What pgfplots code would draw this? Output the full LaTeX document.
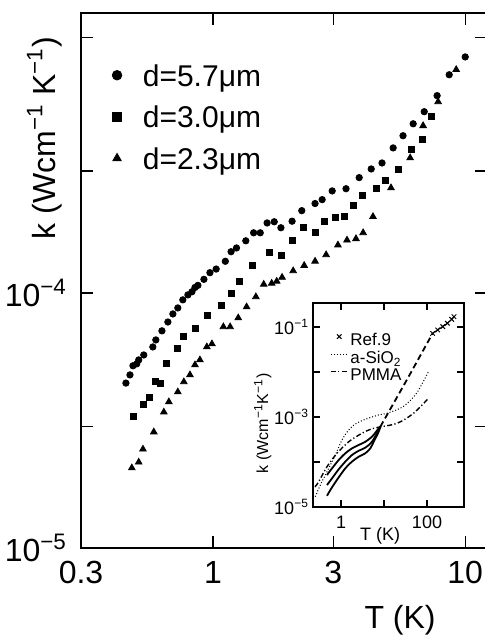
\documentclass[border=0pt]{standalone}
\usepackage{fontspec}
\setmainfont{Liberation Sans}
\usepackage{pgfplots}
\pgfplotsset{compat=1.18}
\newcommand{\tp}[1]{10\textsuperscript{−#1}}

\begin{document}
\begin{tikzpicture}
\useasboundingbox (0,0) rectangle (242pt,319pt);
% main panel
\begin{axis}[
  at={(40.5pt,45pt)}, anchor=south west,
  scale only axis, width=203pt, height=267.5pt,
  xmode=log, ymode=log,
  xmin=0.3, xmax=12.2, ymin=1e-5, ymax=1.25e-3,
  xtick={0.3,1,3,10}, xticklabels={0.3,1,3,10},
  ytick={1e-5,3e-5,1e-4,3e-4,1e-3},
  yticklabels={\tp{5},,\tp{4},,},
  xminorticks=false, yminorticks=false,
  major tick length=6pt,
  tick style={black, line width=0.7pt},
  axis line style={line width=1pt},
  tick label style={font=\fontsize{16}{16}\selectfont},
  xticklabel shift=3pt, yticklabel shift=3.5pt,
  xlabel={T (K)},
  ylabel={k (Wcm\textsuperscript{−1} K\textsuperscript{−1})},
  every axis x label/.style={at={(axis description cs:0.786,-0.1495)}, anchor=base,
    font=\fontsize{16}{16}\selectfont},
  every axis y label/.style={at={(axis description cs:-0.064,0.766)}, rotate=90, anchor=base,
    font=\fontsize{16}{16}\selectfont},
  legend style={at={(axis description cs:0.076,0.905)}, anchor=north west,
    draw=none, fill=none, inner sep=0pt, font=\fontsize{15}{15}\selectfont,
    row sep=6.75pt, column sep=10.5pt,
    nodes={inner sep=0pt, text height=11pt, text depth=3pt}},
  legend cell align=left,
  legend image code/.code={\draw[#1, mark size=2.4pt] plot coordinates {(0pt,1.5pt)};},
]
\addplot[only marks, mark=*, mark size=1.6pt] coordinates {
(0.452,4.43e-5) (0.469,4.77e-5) (0.482,5.18e-5) (0.499,5.27e-5) (0.508,5.46e-5)
(0.532,5.71e-5) (0.578,6.14e-5) (0.594,6.54e-5) (0.628,7.10e-5) (0.663,7.69e-5)
(0.694,8.27e-5) (0.726,8.73e-5) (0.760,9.39e-5) (0.796,9.82e-5) (0.826,1.01e-4)
(0.849,1.05e-4) (0.872,1.07e-4) (0.921,1.13e-4) (0.973,1.20e-4) (1.03,1.24e-4)
(1.12,1.33e-4) (1.18,1.45e-4) (1.24,1.50e-4) (1.35,1.60e-4) (1.45,1.72e-4)
(1.54,1.72e-4) (1.64,1.88e-4) (1.75,1.90e-4) (1.86,1.80e-4) (2.06,1.91e-4)
(2.25,2.10e-4) (2.54,2.24e-4) (2.71,2.32e-4) (2.97,2.51e-4) (3.37,2.56e-4)
(3.80,2.83e-4) (4.24,3.06e-4) (4.68,3.23e-4) (5.18,3.70e-4) (5.67,4.13e-4)
(6.22,4.60e-4) (6.88,5.13e-4) (7.74,5.93e-4) (8.64,7.16e-4) (10.0,8.41e-4)
};
\addlegendentry{d=5.7μm}
\addplot[only marks, mark=square*, mark size=1.5pt] coordinates {
(0.486,3.27e-5) (0.528,3.64e-5) (0.562,3.88e-5) (0.594,4.48e-5) (0.622,4.40e-5)
(0.657,5.31e-5) (0.726,6.08e-5) (0.767,6.77e-5) (0.849,7.29e-5) (0.955,8.13e-5)
(1.08,8.97e-5) (1.18,9.91e-5) (1.27,1.11e-4) (1.44,1.28e-4) (1.67,1.44e-4)
(1.86,1.40e-4) (2.06,1.60e-4) (2.28,1.80e-4) (2.54,1.73e-4) (2.76,1.91e-4)
(3.05,1.97e-4) (3.31,1.99e-4) (3.59,2.21e-4) (3.90,2.40e-4) (4.43,2.56e-4)
(4.81,2.75e-4) (5.42,3.06e-4) (6.10,3.64e-4) (6.75,3.98e-4) (7.33,4.90e-4)
};
\addlegendentry{d=3.0μm}
\addplot[only marks, mark=triangle*, mark size=1.9pt] coordinates {
(0.477,2.06e-5) (0.508,2.17e-5) (0.528,2.44e-5) (0.583,2.85e-5) (0.639,3.41e-5)
(0.669,3.74e-5) (0.726,4.09e-5) (0.767,4.48e-5) (0.811,4.77e-5) (0.849,5.22e-5)
(0.888,5.46e-5) (0.946,6.14e-5) (0.991,6.31e-5) (1.10,7.36e-5) (1.17,7.36e-5)
(1.26,7.98e-5) (1.36,8.81e-5) (1.48,9.65e-5) (1.59,1.08e-4) (1.71,1.09e-4)
(1.79,1.11e-4) (1.88,1.15e-4) (2.08,1.22e-4) (2.30,1.28e-4) (2.54,1.33e-4)
(2.81,1.41e-4) (3.13,1.54e-4) (3.40,1.61e-4) (3.69,1.63e-4) (3.94,1.72e-4)
(4.31,1.99e-4) (5.08,2.58e-4) (6.05,3.38e-4) (6.81,4.52e-4) (7.81,5.61e-4)
(9.21,7.50e-4)
};
\addlegendentry{d=2.3μm}
\end{axis}

% inset
\begin{axis}[
  at={(156.5pt,65.5pt)}, anchor=south west,
  scale only axis, width=75.5pt, height=102pt,
  xmode=log, ymode=log,
  xmin=0.223, xmax=725, ymin=1e-5, ymax=0.341,
  xtick={1,10,100}, xticklabels={1,,100},
  ytick={1e-5,1e-4,1e-3,1e-2,1e-1},
  yticklabels={\tp{5},,\tp{3},,\tp{1}},
  xminorticks=false, yminorticks=false,
  major tick length=3.5pt,
  tick style={black, line width=0.6pt},
  axis line style={line width=0.8pt},
  axis background/.style={fill=white},
  tick label style={font=\fontsize{9}{9}\selectfont},
  xticklabel shift=1pt, yticklabel shift=-1.5pt,
  xlabel={T (K)},
  ylabel={k (Wcm\textsuperscript{−1}K\textsuperscript{−1})},
  every axis x label/.style={at={(axis description cs:0.444,-0.162)}, anchor=base,
    font=\fontsize{9}{9}\selectfont},
  every axis y label/.style={at={(axis description cs:-0.298,0.41)}, rotate=90, anchor=base,
    font=\fontsize{8}{8}\selectfont},
  legend style={at={(axis description cs:0.11,0.853)}, anchor=north west,
    draw=none, fill=none, inner sep=0pt, font=\fontsize{8.5}{8.5}\selectfont,
    row sep=0.55pt, column sep=1pt,
    nodes={inner sep=0pt, text height=6.2pt, text depth=2pt}},
  legend cell align=left,
  legend image code/.code={\draw[#1] (0pt,2.5pt) -- (8.5pt,2.5pt);},
]
\addplot[mark=x, mark size=1.6pt, line width=0.5pt,
  legend image code/.code={\draw[mark=x, mark size=1.6pt, line width=0.5pt] plot coordinates {(4.25pt,2.5pt)};}]
  coordinates {(135,0.072) (177,0.086) (232,0.102) (298,0.121) (375,0.148) (424,0.169)};
\addlegendentry{Ref.9}
\addplot[line width=0.5pt, dash pattern=on 0.5pt off 1pt, smooth] coordinates {
(0.252,1.69e-5) (0.330,3.08e-5) (0.518,7.24e-5) (0.738,1.43e-4) (1.05,3.08e-4)
(1.51,5.14e-4) (2.15,6.99e-4) (3.67,8.89e-4) (7.53,1.11e-3) (11.5,1.2e-3)
(28,1.7e-3) (57.5,3.4e-3) (108,0.0102)
};
\addlegendentry{a-SiO\textsubscript{2}}
\addplot[line width=0.7pt, dash pattern=on 2.5pt off 1.2pt on 0.6pt off 1.2pt, smooth] coordinates {
(0.248,2.8e-5) (0.303,3.65e-5) (0.472,7.87e-5) (0.807,1.56e-4) (1.51,2.82e-4)
(3.08,4.35e-4) (5.76,5.61e-4) (19.8,7.2e-4) (48,1.2e-3) (108,2.6e-3)
};
\addlegendentry{PMMA}
\addplot[forget plot, line width=0.9pt, dash pattern=on 3pt off 1.8pt] coordinates {
(8.2,6.08e-4) (33.7,6.6e-3) (135,0.072)
};
\addplot[forget plot, line width=0.9pt, smooth] coordinates {
(0.472,1.78e-5) (0.618,2.74e-5) (0.885,4.57e-5) (1.26,7.24e-5) (1.80,1.02e-4)
(2.58,1.31e-4) (3.67,1.56e-4) (4.80,2.01e-4) (5.76,2.82e-4) (7.53,4.71e-4) (8.2,6.08e-4)
};
\addplot[forget plot, line width=0.9pt, smooth] coordinates {
(0.472,3.08e-5) (0.618,4.34e-5) (0.885,6.89e-5) (1.26,1.02e-4) (1.80,1.43e-4)
(2.58,1.78e-4) (3.67,2.08e-4) (5.26,2.82e-4) (7.53,5.14e-4) (8.2,6.08e-4)
};
\addplot[forget plot, line width=0.9pt, smooth] coordinates {
(0.472,5.14e-5) (0.618,7.24e-5) (0.885,1.11e-4) (1.26,1.56e-4) (1.80,2.01e-4)
(2.58,2.39e-4) (3.67,2.82e-4) (5.26,3.65e-4) (7.53,5.61e-4) (8.2,6.08e-4)
};
\end{axis}
\end{tikzpicture}
\end{document}
